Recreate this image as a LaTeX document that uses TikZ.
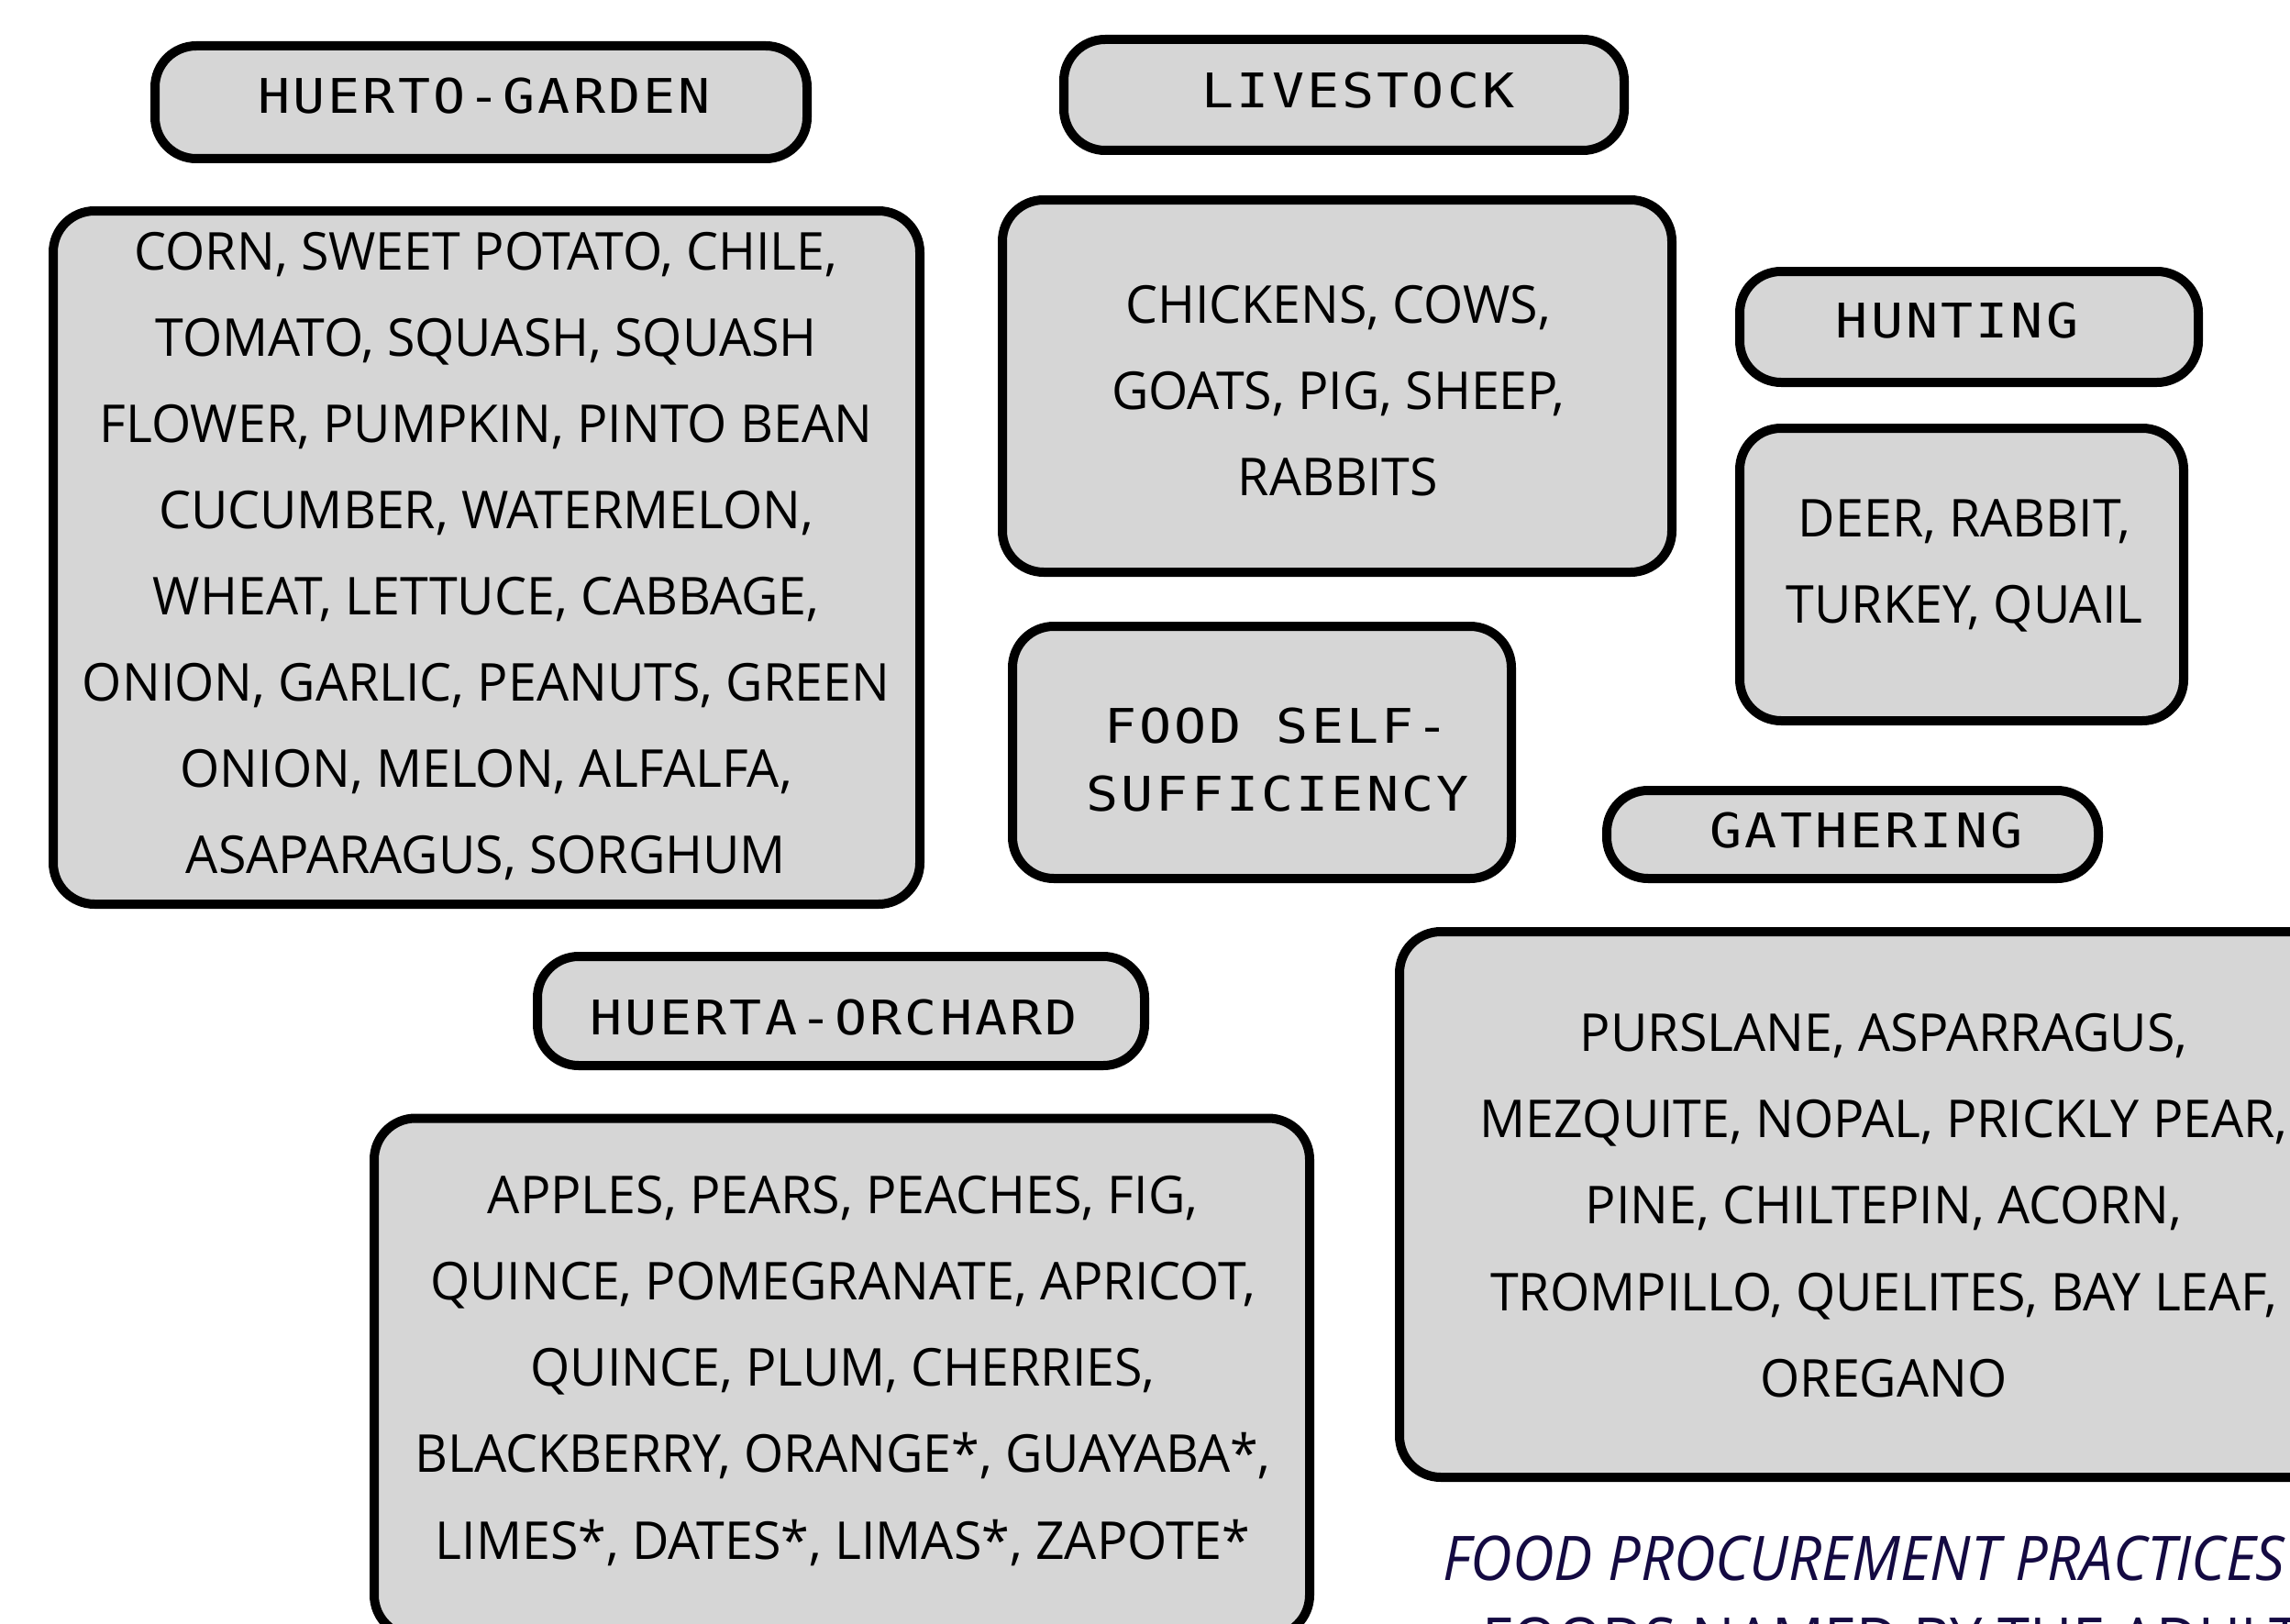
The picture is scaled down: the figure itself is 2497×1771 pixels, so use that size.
\documentclass[tikz,border=0pt]{standalone}
\usepackage{fontspec}
\setmainfont[FakeStretch=0.975]{Open Sans}
\newfontfamily\hdrfont[FakeStretch=1.12,LetterSpace=6]{DejaVu Sans Mono}
\newfontfamily\ttlfont[FakeStretch=0.94]{Open Sans}
\definecolor{boxgray}{RGB}{214,214,214}
\definecolor{titleblue}{RGB}{20,10,66}
\begin{document}
\begin{tikzpicture}[x=0.1mm,y=-0.1mm,
  box/.style={draw=black, line width=1mm, fill=boxgray, rounded corners=4.5mm, inner sep=0pt, rectangle},
  bodytxt/.style={inner sep=0pt, anchor=base, font=\fontsize{16.2pt}{20pt}\selectfont},
  hdrtxt/.style={inner sep=0pt, font=\hdrfont\fontsize{14.8pt}{18pt}\selectfont},
  ttl/.style={inner sep=0pt, anchor=base west, text=titleblue, font=\ttlfont\fontsize{19.1pt}{23pt}\selectfont}]
\useasboundingbox (0,0) rectangle (2497,1771);
\clip (0,0) rectangle (2497,1771);
\fill[white] (0,0) rectangle (2497,1771);

% HUERTO-GARDEN
\node[box, minimum width=71.1mm, minimum height=12.3mm] (gardenH) at (524.5,111.5) {};
\node[hdrtxt] (gardenHt) at (528,105) {HUERTO-GARDEN};
\node[box, minimum width=94.5mm, minimum height=75.6mm] (garden) at (530.5,608) {};
\foreach \t [count=\i] in {{CORN, SWEET POTATO, CHILE,},{TOMATO, SQUASH, SQUASH},{FLOWER, PUMPKIN, PINTO BEAN},{CUCUMBER, WATERMELON,},{WHEAT, LETTUCE, CABBAGE,},{ONION, GARLIC, PEANUTS, GREEN},{ONION, MELON, ALFALFA,},{ASAPARAGUS, SORGHUM}}
  \node[bodytxt] (garden-\i) at (530,200+94*\i) {\t};

% LIVESTOCK
\node[box, minimum width=61.1mm, minimum height=12.1mm] (livestockH) at (1465.5,103.5) {};
\node[hdrtxt] (livestockHt) at (1481,99) {LIVESTOCK};
\node[box, minimum width=73mm, minimum height=40.6mm] (livestock) at (1458,421) {};
\foreach \t [count=\i] in {{CHICKENS, COWS,},{GOATS, PIG, SHEEP,},{RABBITS}}
  \node[bodytxt] (livestock-\i) at (1459,258+94*\i) {\t};

% HUNTING
\node[box, minimum width=50mm, minimum height=12.1mm] (huntingH) at (2147,356.5) {};
\node[hdrtxt] (huntingHt) at (2134,350) {HUNTING};
\node[box, minimum width=48.4mm, minimum height=31.9mm] (hunting) at (2139,626.5) {};
\foreach \t [count=\i] in {{DEER, RABBIT,},{TURKEY, QUAIL}}
  \node[bodytxt] (hunting-\i) at (2142,491+94*\i) {\t};

% FOOD SELF-SUFFICIENCY
\node[box, minimum width=54.4mm, minimum height=27.5mm] (food) at (1376,820.5) {};
\node[hdrtxt, anchor=base] (food-1) at (1392,810) {FOOD SELF-};
\node[hdrtxt, anchor=base] (food-2) at (1393,884) {SUFFICIENCY};

% GATHERING
\node[box, minimum width=53.6mm, minimum height=9.6mm] (gatheringH) at (2020,910) {};
\node[hdrtxt] (gatheringHt) at (2035,906) {GATHERING};
\node[box, minimum width=105.7mm, minimum height=59.5mm] (gathering) at (2054.5,1313.5) {};
\foreach \t [count=\i] in {{PURSLANE, ASPARRAGUS,},{MEZQUITE, NOPAL, PRICKLY PEAR,},{PINE, CHILTEPIN, ACORN,},{TROMPILLO, QUELITES, BAY LEAF,},{OREGANO}}
  \node[bodytxt] (gathering-\i) at (2054,1052+94.3*\i) {\t};

% HUERTA-ORCHARD
\node[box, minimum width=66.2mm, minimum height=11.9mm] (orchardH) at (917,1102.5) {};
\node[hdrtxt] (orchardHt) at (909,1110) {HUERTA-ORCHARD};
\node[box, minimum width=102mm, minimum height=56.5mm] (orchard) at (918,1502) {};
\foreach \t [count=\i] in {{APPLES, PEARS, PEACHES, FIG,},{QUINCE, POMEGRANATE, APRICOT,},{QUINCE, PLUM, CHERRIES,},{BLACKBERRY, ORANGE*, GUAYABA*,},{LIMES*, DATES*, LIMAS*, ZAPOTE*}}
  \node[bodytxt] (orchard-\i) at (919,1229+94.2*\i) {\t};

% caption
\node[ttl, font=\ttlfont\itshape\fontsize{19.1pt}{23pt}\selectfont] (title) at (1573,1723) {FOOD PROCUREMENT PRACTICES};
\node[ttl] (title2) at (1616,1812) {FOODS NAMED BY THE ADULTS};
\end{tikzpicture}
\end{document}
